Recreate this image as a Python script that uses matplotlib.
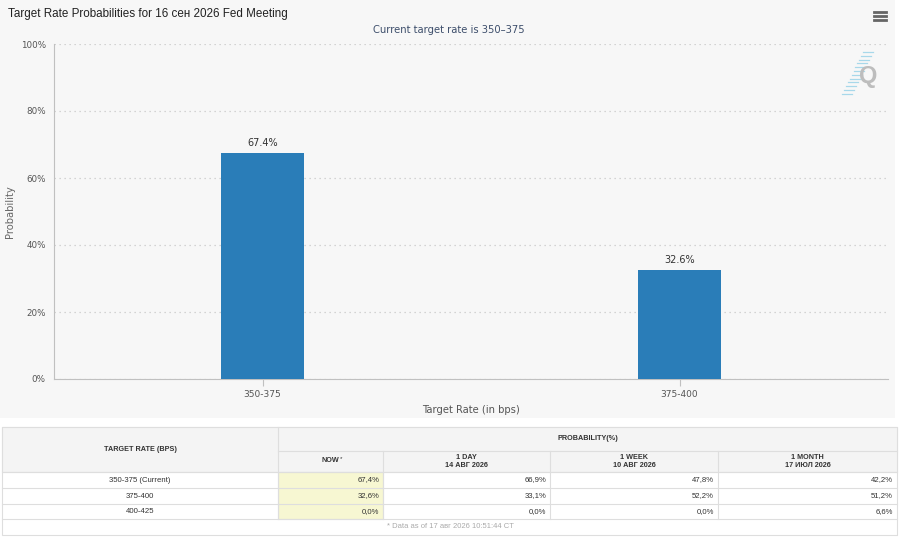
import numpy as np
import matplotlib
matplotlib.use("Agg")
import matplotlib.pyplot as plt
from matplotlib.patches import Rectangle
from matplotlib.lines import Line2D

##########################################################################################
# Data
title = "Target Rate Probabilities for 16 сен 2026 Fed Meeting"
subtitle = "Current target rate is 350–375"
rates = ["350-375", "375-400"]
probs = [67.4, 32.6]
yticks = [0, 20, 40, 60, 80, 100]

table_rates = ["350-375 (Current)", "375-400", "400-425"]
table_cols = ["NOW", "1 DAY\n14 АВГ 2026", "1 WEEK\n10 АВГ 2026", "1 MONTH\n17 ИЮЛ 2026"]
now_vals = ["67,4%", "32,6%", "0,0%"]
day_vals = ["66,9%", "33,1%", "0,0%"]
week_vals = ["47,8%", "52,2%", "0,0%"]
month_vals = ["42,2%", "51,2%", "6,6%"]
footnote = "* Data as of 17 авг 2026 10:51:44 CT"
##########################################################################################

W, H = 900, 538
bar_color = "#2a7db8"
panel_bg = "#f7f7f7"
chart_font = "DejaVu Sans"
table_font = "Liberation Sans"

fig = plt.figure(figsize=(W/100, H/100), dpi=100, facecolor="white")

def fx(x):
    return x / W
def fy(y):
    return 1 - y / H

# chart panel background (behind everything)
fig.patches.append(Rectangle((0, fy(418)), fx(895), 418/H, transform=fig.transFigure,
                             facecolor=panel_bg, edgecolor="none", zorder=-5))

fig.text(fx(8), fy(14), title, fontsize=8.4, family=table_font, color="#222222", va="center", ha="left")
fig.text(fx(449), fy(30), subtitle, fontsize=7.2, family=chart_font, color="#3d4e6b", va="center", ha="center")

# menu icon
for yy in (12, 16, 20):
    fig.add_artist(Line2D([fx(874), fx(886)], [fy(yy), fy(yy)], color="#666666", lw=2.0))

# chart
ax = fig.add_axes([fx(54), fy(379), fx(888) - fx(54), 335/H])
ax.set_facecolor(panel_bg)
x = np.arange(len(rates))
bars = ax.bar(x, probs, width=0.2, color=bar_color, zorder=3)
for xi, p in zip(x, probs):
    ax.text(xi, p + 1.5, "%.1f%%" % p, ha="center", va="bottom", fontsize=7,
            family=chart_font, color="#333333")
ax.set_xlim(-0.5, len(rates) - 0.5)
ax.set_ylim(0, 100)
ax.set_yticks(yticks)
ax.set_yticklabels(["%d%%" % t for t in yticks], fontsize=6.3, family=chart_font, color="#555555")
ax.set_xticks(x)
ax.set_xticklabels(rates, fontsize=6.5, family=chart_font, color="#555555")
ax.yaxis.grid(True, ls=(0, (1, 3)), color="#c8c8c8", lw=0.9)
ax.set_axisbelow(True)
for s in ("top", "right"):
    ax.spines[s].set_visible(False)
ax.spines["left"].set_color("#c0c0c0")
ax.spines["bottom"].set_color("#c0c0c0")
ax.tick_params(axis="y", length=0, pad=6)
ax.tick_params(axis="x", length=5, color="#c0c0c0", pad=3)
ax.set_xlabel("Target Rate (in bps)", fontsize=7.2, family=chart_font, color="#555555", labelpad=4)
ax.set_ylabel("Probability", fontsize=7.2, family=chart_font, color="#666666")
ax.yaxis.set_label_coords((15 - 54) / 834, 0.5)

# logo
fig.text(fx(868), fy(76), "Q", fontsize=17, family=table_font, fontweight="bold",
         color="#bdbdbd", ha="center", va="center")
for k in range(12):
    y0 = 52 + k * 3.8
    xc = 868 - k * 1.9
    fig.add_artist(Line2D([fx(xc - 5), fx(xc + 5)], [fy(y0), fy(y0)],
                          color="#a8d8ea", lw=0.9))

# table
tax = fig.add_axes([0, 0, 1, 1], facecolor="none")
tax.set_xlim(0, W)
tax.set_ylim(H, 0)
tax.axis("off")

cx = [2, 278, 383, 550, 718, 897]
ry = [427, 451, 472, 488, 504, 519, 535]
grid_c = "#dedede"
head_bg = "#f4f4f4"

tax.add_patch(Rectangle((cx[0] + 1, ry[0] + 1), cx[-1] - cx[0], ry[-1] - ry[0],
                        facecolor="#d9d9d9", edgecolor="none"))
tax.add_patch(Rectangle((cx[0], ry[0]), cx[-1] - cx[0], ry[-1] - ry[0],
                        facecolor="white", edgecolor=grid_c, lw=0.8))
tax.add_patch(Rectangle((cx[0], ry[0]), cx[-1] - cx[0], ry[2] - ry[0],
                        facecolor=head_bg, edgecolor=grid_c, lw=0.8))
tax.add_patch(Rectangle((cx[1], ry[2]), cx[2] - cx[1], ry[5] - ry[2],
                        facecolor="#f7f7d2", edgecolor=grid_c, lw=0.8))
# lines
tax.plot([cx[1], cx[-1]], [ry[1], ry[1]], color=grid_c, lw=0.8)
for yy in ry[2:6]:
    tax.plot([cx[0], cx[-1]], [yy, yy], color=grid_c, lw=0.8)
tax.plot([cx[1], cx[1]], [ry[0], ry[5]], color=grid_c, lw=0.8)
for xx in cx[2:5]:
    tax.plot([xx, xx], [ry[1], ry[5]], color=grid_c, lw=0.8)

hdr = dict(fontsize=5.2, family=table_font, fontweight="bold", color="#333333",
           ha="center", va="center", linespacing=1.15)
tax.text((cx[0] + cx[1]) / 2, (ry[0] + ry[2]) / 2, "TARGET RATE (BPS)", **hdr)
tax.text((cx[1] + cx[-1]) / 2, (ry[0] + ry[1]) / 2, "PROBABILITY(%)", **hdr)
for i, lab in enumerate(table_cols):
    xc = (cx[i + 1] + cx[i + 2]) / 2
    if lab == "NOW":
        tax.text(xc, (ry[1] + ry[2]) / 2 - 1, "NOW", **hdr)
        tax.text(xc + 11, (ry[1] + ry[2]) / 2 - 3, "*", fontsize=4.5, family=table_font,
                 color="#333333", ha="center", va="center")
    else:
        tax.text(xc, (ry[1] + ry[2]) / 2, lab, **hdr)

body = dict(fontsize=5.6, family=table_font, color="#333333", va="center")
columns = [now_vals, day_vals, week_vals, month_vals]
for r, lab in enumerate(table_rates):
    yc = (ry[r + 2] + ry[r + 3]) / 2
    tax.text((cx[0] + cx[1]) / 2, yc, lab, ha="center", **body)
    for c, vals in enumerate(columns):
        tax.text(cx[c + 2] - 4, yc, vals[r], ha="right", **body)

tax.text(450, (ry[5] + ry[6]) / 2, footnote, fontsize=5.5, family=table_font,
         color="#aaaaaa", ha="center", va="center")

fig.savefig("out.png", dpi=100, facecolor=fig.get_facecolor())
